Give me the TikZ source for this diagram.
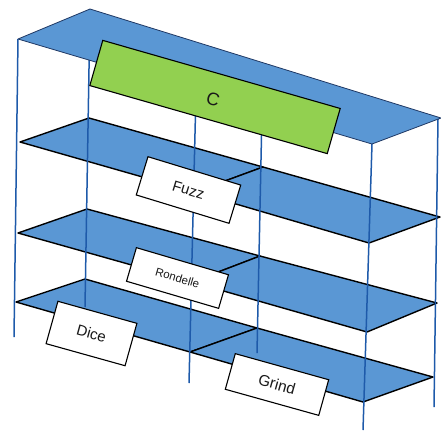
\documentclass[tikz,border=0pt]{standalone}
\usepackage{fontspec}
\usepackage{graphicx}
\setmainfont{Liberation Sans}
\definecolor{shelfblue}{HTML}{5A97D4}
\definecolor{postblue}{HTML}{1E5AAA}
\definecolor{cgreen}{HTML}{92D050}
\definecolor{edgenavy}{HTML}{1F3864}
\begin{document}
\begin{tikzpicture}[x=1pt,y=-1pt,
  shelf/.style={fill=shelfblue, draw=black, line width=1.4pt, line join=round},
  topshelf/.style={fill=shelfblue, draw=edgenavy, line width=0.8pt, line join=round},
  post/.style={draw=postblue, line width=1.5pt},
  lbl/.style={draw=black, fill=white, line width=1.1pt, inner sep=0pt},
  lblc/.style={draw=black, fill=cgreen, line width=1.1pt, inner sep=0pt},
  txt/.style={inner sep=0pt, text=black!90}]
\useasboundingbox (0,0) rectangle (441,432);
% top shelf corners
\coordinate (tLF) at (18,39);
\coordinate (tLB) at (90,9);
\coordinate (tRB) at (441,118);
\coordinate (tRF) at (372,144);
% shelf 2
\coordinate (aLF) at (20,142);
\coordinate (aLB) at (89,118);
\coordinate (aMB) at (263,167);
\coordinate (aMF) at (195,192);
\coordinate (aRB) at (440,217);
\coordinate (aRF) at (369,243);
% shelf 3
\coordinate (bLF) at (18,233);
\coordinate (bLB) at (87,209);
\coordinate (bMB) at (260,256);
\coordinate (bMF) at (192,282);
\coordinate (bRB) at (437,303);
\coordinate (bRF) at (367,332);
% shelf 4
\coordinate (cLF) at (16,302);
\coordinate (cLB) at (85,279);
\coordinate (cMB) at (257,328);
\coordinate (cMF) at (190,352);
\coordinate (cRB) at (433,377);
\coordinate (cRF) at (363,402);
% post ends
\coordinate (p1t) at (18,39);  \coordinate (p1b) at (14,337);
\coordinate (p2t) at (90,9);   \coordinate (p2b) at (85,307);
\coordinate (p3t) at (196,92); \coordinate (p3b) at (189,383);
\coordinate (p4t) at (263,63); \coordinate (p4b) at (257,353);
\coordinate (p5t) at (372,144);\coordinate (p5b) at (363,430);
\coordinate (p6t) at (438,119);\coordinate (p6b) at (434,407);
% lower shelves
\foreach \s in {a,b,c}{
  \draw[shelf] (\s LF) -- (\s LB) -- (\s MB) -- (\s MF) -- cycle;
  \draw[shelf] (\s MF) -- (\s MB) -- (\s RB) -- (\s RF) -- cycle;
}
% posts
\foreach \p in {1,...,6}{
  \draw[post] (p\p t) -- (p\p b);
}
% top shelf
\draw[topshelf] (tLF) -- (tLB) -- (tRB) -- (tRF) -- cycle;
% label boxes
\node[lblc, minimum width=247pt, minimum height=47pt, rotate=-16] (C) at (215,97) {};
\node[lbl, minimum width=97pt, minimum height=40pt, rotate=-17] (fuzz) at (188.5,190) {};
\node[lbl, minimum width=96pt, minimum height=35pt, rotate=-16.4] (rondelle) at (177.5,278) {};
\node[lbl, minimum width=82pt, minimum height=44pt, rotate=-15.6] (dice) at (91.5,333.5) {};
\node[lbl, minimum width=97pt, minimum height=37pt, rotate=-15.6] (grind) at (277,384.5) {};
% label texts
\node[txt, font=\fontsize{18}{20}\selectfont] (Ct) at ([xshift=-2pt,yshift=-2pt]C.center) {\rotatebox{-16}{C}};
\node[txt, font=\fontsize{15}{17}\selectfont] (fuzzt) at (fuzz.center) {\rotatebox{-17}{Fuzz}};
\node[txt, font=\fontsize{11.5}{13}\selectfont] (rondellet) at (rondelle.center) {\rotatebox{-16.4}{Rondelle}};
\node[txt, font=\fontsize{15}{17}\selectfont] (dicet) at (dice.center) {\rotatebox{-15.6}{Dice}};
\node[txt, font=\fontsize{15.5}{17}\selectfont] (grindt) at (grind.center) {\rotatebox{-15.6}{Grind}};
\end{tikzpicture}
\end{document}
